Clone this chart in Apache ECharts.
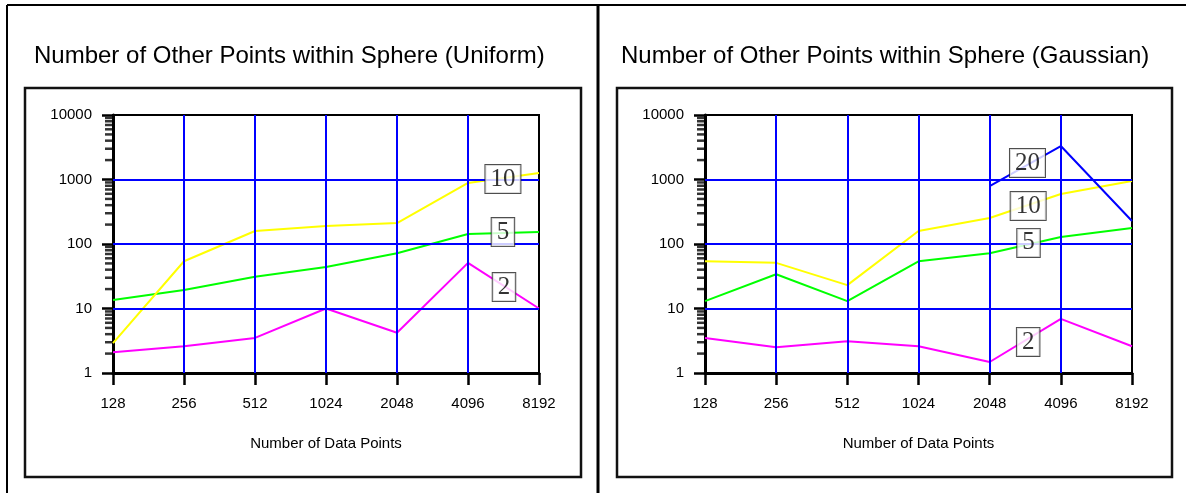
<!DOCTYPE html>
<html>
<head>
<meta charset="utf-8">
<script src="https://cdn.jsdelivr.net/npm/echarts@6/dist/echarts.min.js"></script>
<style>html,body{margin:0;padding:0;background:#fff;}#c{width:1186px;height:493px;}</style>
</head>
<body>
<div id="c"></div>
<script>
// ---- data ----
const xValues = [128, 256, 512, 1024, 2048, 4096, 8192];
const uniform2 = [2.1, 2.6, 3.5, 10, 4.2, 51, 10];
const uniform5 = [13.5, 19.4, 31, 44, 72, 143, 154];
const uniform10 = [2.9, 54, 159, 190, 211, 883, 1260];
const gauss2 = [3.5, 2.5, 3.1, 2.6, 1.48, 6.9, 2.6];
const gauss5 = [13, 34, 13, 54, 72, 128, 177];
const gauss10 = [54, 51, 23, 159, 253, 596, 948];
const gauss20 = [null, null, null, null, 790, 3300, 227];
// in-line series labels (text, x anchor, y anchor)
const uniformLabelText = ['10', '5', '2'];
const uniformLabelX = [5760, 5760, 5820];
const uniformLabelY = [1018, 153, 21.5];
const gaussLabelText = ['20', '10', '5', '2'];
const gaussLabelX = [2960, 2980, 2990, 2980];
const gaussLabelY = [1803, 388, 104, 3.03];
// axis ticks / grid lines
const yMajorTicks = [1, 10, 100, 1000, 10000];
const yMinorTicks = [2,3,4,5,6,7,8,9,20,30,40,50,60,70,80,90,200,300,400,500,600,700,800,900,2000,3000,4000,5000,6000,7000,8000,9000];
const hGridValues = [10, 100, 1000];
const vGridValues = [256, 512, 1024, 2048, 4096];
const titles = ['Number of Other Points within Sphere (Uniform)', 'Number of Other Points within Sphere (Gaussian)'];
const xAxisName = 'Number of Data Points';

const SANS = '"Liberation Sans", Arial, sans-serif';
const SERIF = '"Liberation Serif", "Times New Roman", serif';

function pairs(vals) { return xValues.map((x, i) => [x, vals[i]]); }

function lineSeries(idx, vals, color) {
  return {
    type: 'line', xAxisIndex: idx, yAxisIndex: idx,
    data: pairs(vals), symbol: 'none', z: 3,
    connectNulls: false,
    lineStyle: { color: color, width: 2 },
    itemStyle: { color: color },
    animation: false
  };
}

function gridSeries(idx) {
  return {
    type: 'line', xAxisIndex: idx, yAxisIndex: idx, z: 2,
    data: [[128, 1]], symbol: 'none', lineStyle: { width: 0 }, silent: true, animation: false,
    markLine: {
      silent: true, symbol: 'none', animation: false,
      label: { show: false },
      lineStyle: { color: '#0000ff', width: 2, type: 'solid' },
      data: hGridValues.map(v => ({ yAxis: v })).concat(vGridValues.map(v => ({ xAxis: v })))
    }
  };
}

function minorTickSeries(idx) {
  return {
    type: 'scatter', xAxisIndex: idx, yAxisIndex: idx, z: 4, clip: false, silent: true,
    data: yMinorTicks.map(v => [128, v]),
    symbol: 'rect', symbolSize: [7, 2.5], symbolOffset: [-4.5, 0],
    itemStyle: { color: '#000' }, animation: false
  };
}

function labelSeries(idx, texts, xs, ys) {
  return {
    type: 'scatter', xAxisIndex: idx, yAxisIndex: idx, z: 6, clip: false, silent: true,
    data: texts.map((t, i) => [xs[i], ys[i], t]),
    symbol: 'rect', symbolSize: 1, itemStyle: { color: 'rgba(0,0,0,0)' },
    label: {
      show: true, position: 'inside', formatter: p => p.value[2],
      fontFamily: SERIF, fontSize: 25, lineHeight: 24, color: '#000',
      backgroundColor: '#fff', borderColor: '#222', borderWidth: 1,
      padding: [3, 5, 1, 5]
    },
    animation: false
  };
}

function xAxis(idx) {
  return {
    type: 'log', logBase: 2, gridIndex: idx, min: 128, max: 8192, interval: 1,
    name: xAxisName, nameLocation: 'middle', nameGap: 63,
    nameTextStyle: { fontFamily: SANS, fontSize: 15, color: '#000' },
    axisLine: { show: true, lineStyle: { color: '#000', width: 3 } },
    axisTick: { show: true, length: 12, lineStyle: { color: '#000', width: 2.5 } },
    axisLabel: { margin: 23, fontFamily: SANS, fontSize: 15, color: '#000', formatter: v => String(Math.round(v)) },
    splitLine: { show: false }, minorTick: { show: false }
  };
}

function yAxis(idx) {
  return {
    type: 'log', logBase: 10, gridIndex: idx, min: 1, max: 10000, interval: 1,
    axisLine: { show: true, lineStyle: { color: '#000', width: 3 } },
    axisTick: { show: true, length: 11, lineStyle: { color: '#000', width: 2.5 } },
    axisLabel: { margin: 21, fontFamily: SANS, fontSize: 15, color: '#000', formatter: v => String(Math.round(v)) },
    splitLine: { show: false }
  };
}

const chart = echarts.init(document.getElementById('c'), null, { renderer: 'canvas' });
chart.setOption({
  backgroundColor: '#fff',
  animation: false,
  title: [
    { text: titles[0], left: 34, top: 44, padding: 0, textStyle: { fontFamily: SANS, fontSize: 24, fontWeight: 'normal', color: '#000' } },
    { text: titles[1], left: 621, top: 44, padding: 0, textStyle: { fontFamily: SANS, fontSize: 24, fontWeight: 'normal', color: '#000' } }
  ],
  grid: [
    { left: 113, top: 115, width: 426, height: 258, show: true, borderColor: '#000', borderWidth: 2, backgroundColor: 'transparent' },
    { left: 705, top: 115, width: 427, height: 258, show: true, borderColor: '#000', borderWidth: 2, backgroundColor: 'transparent' }
  ],
  xAxis: [xAxis(0), xAxis(1)],
  yAxis: [yAxis(0), yAxis(1)],
  graphic: [
    { type: 'line', shape: { x1: 7, y1: 5, x2: 1186, y2: 5 }, style: { stroke: '#000', lineWidth: 2 }, silent: true },
    { type: 'line', shape: { x1: 7, y1: 5, x2: 7, y2: 493 }, style: { stroke: '#000', lineWidth: 2 }, silent: true },
    { type: 'line', shape: { x1: 598, y1: 5, x2: 598, y2: 493 }, style: { stroke: '#000', lineWidth: 3 }, silent: true },
    { type: 'rect', shape: { x: 25, y: 88, width: 556, height: 389 }, style: { stroke: '#111', lineWidth: 2.5, fill: 'none' }, silent: true },
    { type: 'rect', shape: { x: 617, y: 88, width: 555, height: 389 }, style: { stroke: '#111', lineWidth: 2.5, fill: 'none' }, silent: true }
  ],
  series: [
    gridSeries(0),
    lineSeries(0, uniform2, '#ff00ff'),
    lineSeries(0, uniform5, '#00ff00'),
    lineSeries(0, uniform10, '#ffff00'),
    minorTickSeries(0),
    labelSeries(0, uniformLabelText, uniformLabelX, uniformLabelY),
    gridSeries(1),
    lineSeries(1, gauss2, '#ff00ff'),
    lineSeries(1, gauss5, '#00ff00'),
    lineSeries(1, gauss10, '#ffff00'),
    lineSeries(1, gauss20, '#0000ff'),
    minorTickSeries(1),
    labelSeries(1, gaussLabelText, gaussLabelX, gaussLabelY)
  ]
});
</script>
</body>
</html>
